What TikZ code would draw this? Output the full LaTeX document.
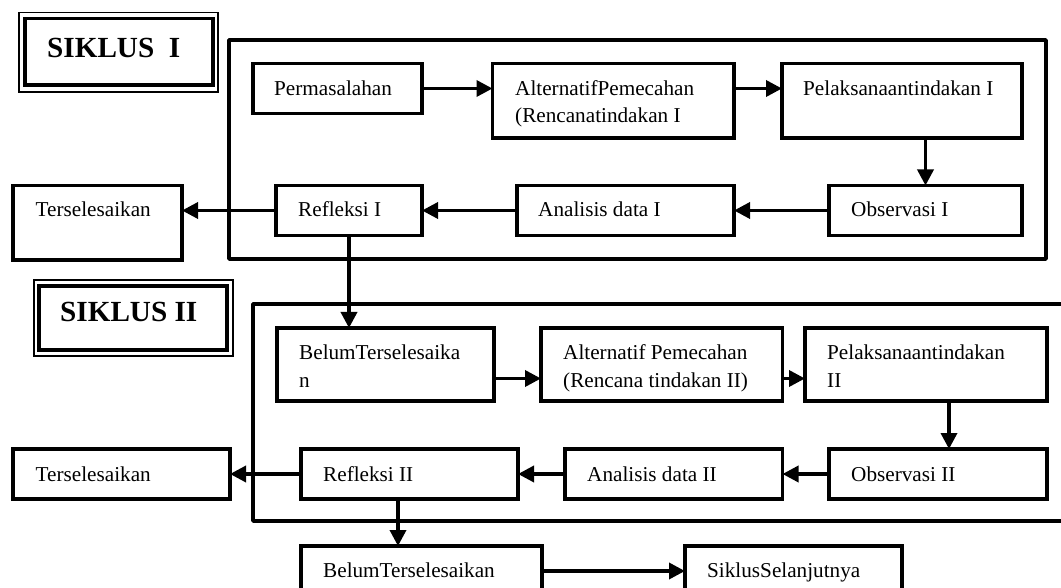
\documentclass[tikz,border=0pt]{standalone}
\usepackage{fontspec}
\setmainfont{Liberation Serif}
\usetikzlibrary{arrows.meta}
\newcommand\fsz{\fontsize{21.2}{27.5}\selectfont}
\newcommand\fbig{\fontsize{29.2}{34}\selectfont\bfseries}
\newcommand\mybox[5]{\node[box,minimum width=#4pt,minimum height=#5pt] (#1) at (#2,#3) {};}
\tikzset{
  box/.style={draw, line width=3.5pt, inner sep=0pt, outer sep=0pt, anchor=north west},
  txt/.style={anchor=base west, inner sep=0pt, font=\fsz, align=left},
  bigtxt/.style={anchor=base west, inner sep=0pt, font=\fbig},
  frame/.style={line width=3.5pt, line join=round},
  arr/.style={line width=3.5pt, -{Triangle[length=16pt,width=16pt]}},
  dbl/.style={line width=1.5pt}
}
\begin{document}
\begin{tikzpicture}[x=1pt,y=-1pt]
\useasboundingbox (0,0) rectangle (1061,588);
% frames
\draw[frame] (229,40) rectangle (1046,259);
\draw[frame] (1080,304) -- (253,304) -- (253,521) -- (1080,521);
% SIKLUS boxes
\mybox{s1}{25}{18.6}{188}{66.4}
\draw[dbl] ([shift={(-6,-6)}]s1.north west) rectangle ([shift={(5,7)}]s1.south east);
\node[bigtxt] at (47,57.5) {SIKLUS\ \ I};
\mybox{s2}{39}{286}{188}{64}
\draw[dbl] ([shift={(-5,-6)}]s2.north west) rectangle ([shift={(6,6)}]s2.south east);
\node[bigtxt] at (60,321) {SIKLUS II};
% cycle I boxes
\mybox{perm}{253}{63.5}{169}{50}
\mybox{alt1}{492.5}{63.5}{241.5}{74.5}
\mybox{pel1}{782}{63.5}{240}{74.5}
\mybox{obs1}{829}{185.5}{193}{50}
\mybox{ana1}{517}{185.5}{217}{50}
\mybox{ref1}{276}{185.5}{146}{50}
\mybox{ters1}{13}{185.5}{169}{74.5}
% cycle II boxes
\mybox{bel2}{277}{328}{217}{73}
\mybox{alt2}{541}{328}{241.5}{73}
\mybox{pel2}{805}{328}{242}{73}
\mybox{obs2}{829}{449}{218}{50}
\mybox{ana2}{565}{449}{217.5}{50}
\mybox{ref2}{301}{449}{217}{50}
\mybox{ters2}{13}{449}{217}{50}
\mybox{bel3}{301}{546}{241}{74}
\mybox{nxt}{685}{546}{217}{74}
% texts (multi-line nodes are anchored at the baseline of their last line)
\node[txt] at (274,95.5) {Permasalahan};
\node[txt] at (515,123) {AlternatifPemecahan\\(Rencanatindakan I};
\node[txt] at (803,95.5) {Pelaksanaantindakan I};
\node[txt] at (851,217) {Observasi I};
\node[txt] at (538,217) {Analisis data I};
\node[txt] at (298,217) {Refleksi I};
\node[txt] at (35.5,217) {Terselesaikan};
\node[txt] at (299,387) {BelumTerselesaika\\n};
\node[txt] at (563,387) {Alternatif Pemecahan\\(Rencana tindakan II)};
\node[txt] at (827,387) {Pelaksanaantindakan\\II};
\node[txt] at (851,481) {Observasi II};
\node[txt] at (587,481) {Analisis data II};
\node[txt] at (323,481) {Refleksi II};
\node[txt] at (35.5,481) {Terselesaikan};
\node[txt] at (323,577) {BelumTerselesaikan};
\node[txt] at (707,577) {SiklusSelanjutnya};
% helper coordinates
\coordinate (r2) at (0,378.5);
\coordinate (c2) at (949,0);
\coordinate (c3) at (398,0);
\coordinate (r3) at (0,571);
% arrows cycle I
\draw[arr] (perm.east) -- (perm.east -| alt1.west);
\draw[arr] (alt1.east |- perm.east) -- (pel1.west |- perm.east);
\draw[arr] (pel1.south -| obs1.north) -- (obs1.north);
\draw[arr] (obs1.west) -- (ana1.east);
\draw[arr] (ana1.west) -- (ref1.east);
\draw[arr] (ref1.west) -- (ref1.west -| ters1.east);
\draw[arr] (ref1.south) -- (ref1.south |- bel2.north);
% arrows cycle II
\draw[arr] (bel2.east |- r2) -- (alt2.west |- r2);
\draw[arr] (alt2.east |- r2) -- (pel2.west |- r2);
\draw[arr] (pel2.south -| c2) -- (obs2.north -| c2);
\draw[arr] (obs2.west) -- (ana2.east);
\draw[arr] (ana2.west) -- (ref2.east);
\draw[arr] (ref2.west) -- (ters2.east);
\draw[arr] (ref2.south -| c3) -- (bel3.north -| c3);
\draw[arr] (bel3.east |- r3) -- (nxt.west |- r3);
\end{tikzpicture}
\end{document}
